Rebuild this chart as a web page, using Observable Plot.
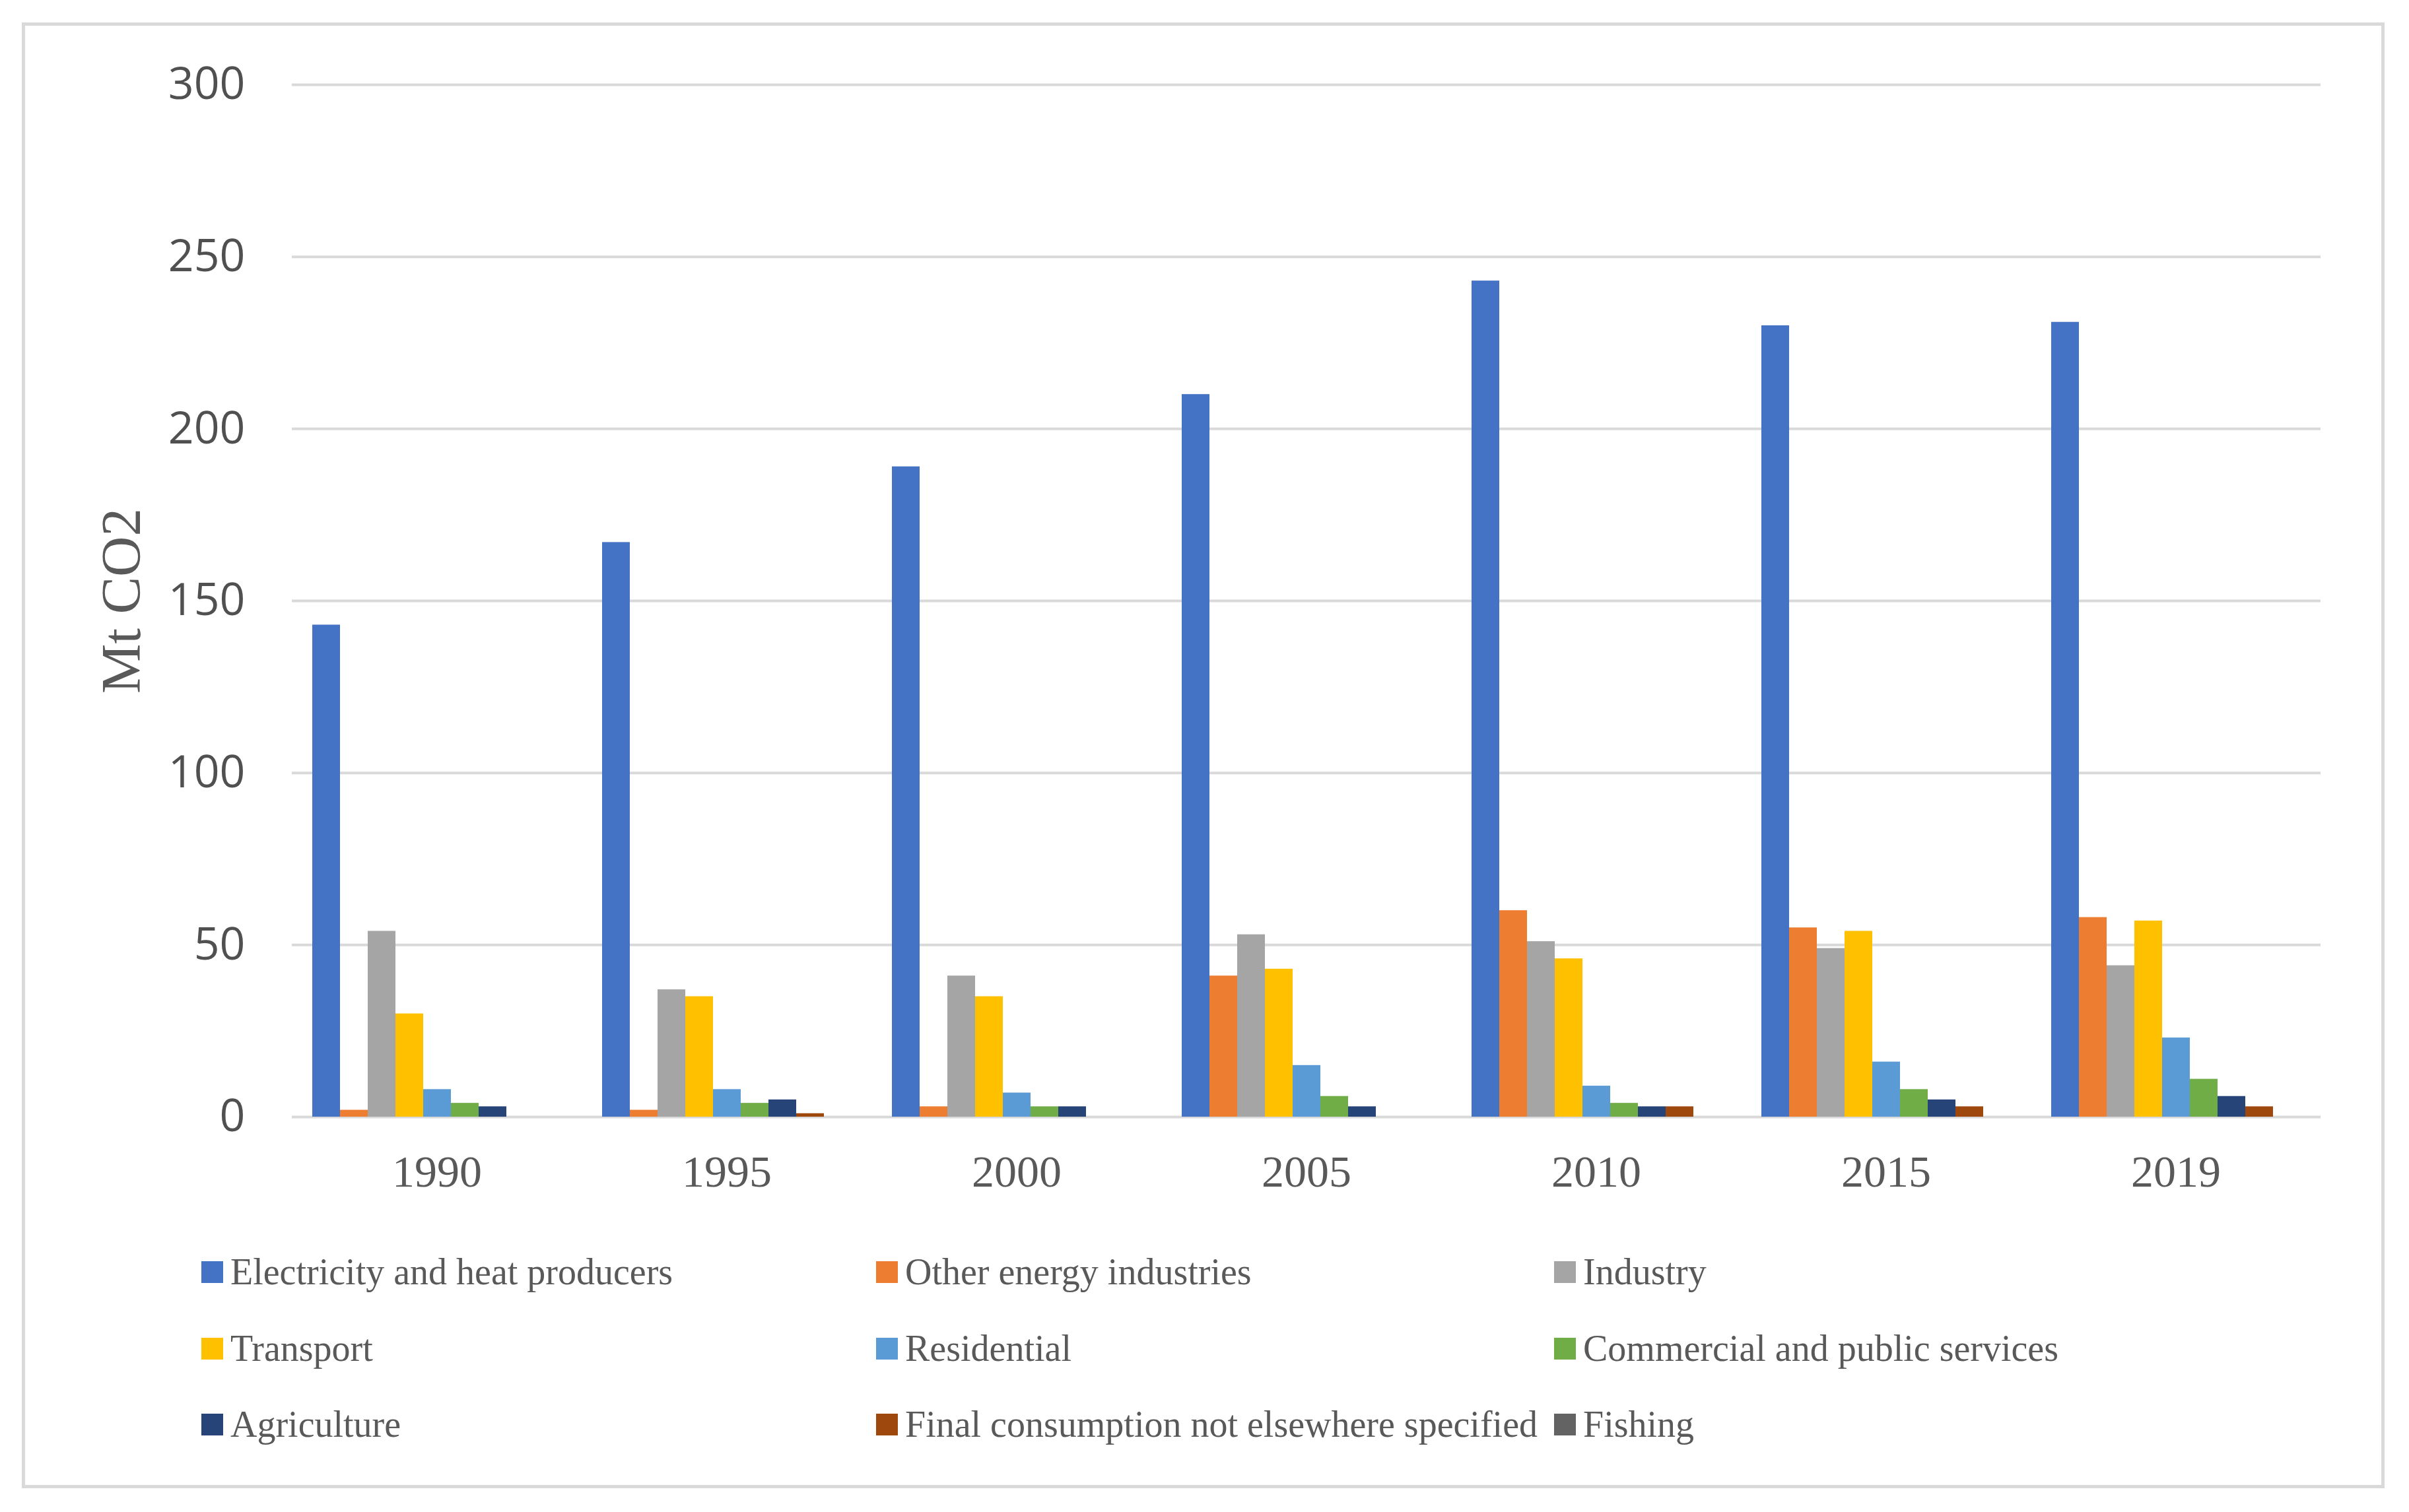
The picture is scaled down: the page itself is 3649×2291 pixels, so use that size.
<!DOCTYPE html>
<html>
<head>
<meta charset="utf-8">
<script src="https://cdn.jsdelivr.net/npm/d3@7"></script>
<script src="https://cdn.jsdelivr.net/npm/@observablehq/plot@0.6"></script>
<style>
  html, body { margin: 0; padding: 0; background: #ffffff; }
  body { width: 3649px; height: 2291px; position: relative; overflow: hidden; }
  #frame { position: absolute; left: 33px; top: 34px; width: 3579px; height: 2221px;
           border: 5px solid #d9d9d9; box-sizing: border-box; pointer-events: none; }
  #chart { position: absolute; left: 0; top: 0; }
  .item { position: absolute; display: flex; align-items: center; height: 60px;
          font-family: "Liberation Serif", serif; font-size: 56px; color: #595959; white-space: nowrap; }
  .sw { width: 33px; height: 33px; margin-right: 11px; flex: none; }
</style>
</head>
<body>
<div id="chart"></div>
<div id="legend"></div>
<div id="frame"></div>
<script>
const years = ["1990", "1995", "2000", "2005", "2010", "2015", "2019"];
const sectors = [
  "Electricity and heat producers",
  "Other energy industries",
  "Industry",
  "Transport",
  "Residential",
  "Commercial and public services",
  "Agriculture",
  "Final consumption not elsewhere specified",
  "Fishing"
];
const colors = ["#4472C4", "#ED7D31", "#A5A5A5", "#FFC000", "#5B9BD5", "#70AD47", "#264478", "#9E480E", "#636363"];

const electricity   = [143, 167, 189, 210, 243, 230, 231];
const otherEnergy   = [2, 2, 3, 41, 60, 55, 58];
const industry      = [54, 37, 41, 53, 51, 49, 44];
const transport     = [30, 35, 35, 43, 46, 54, 57];
const residential   = [8, 8, 7, 15, 9, 16, 23];
const commercial    = [4, 4, 3, 6, 4, 8, 11];
const agriculture   = [3, 5, 3, 3, 3, 5, 6];
const finalConsumption = [0, 1, 0, 0, 3, 3, 3];
const fishing       = [0, 0, 0, 0, 0, 0, 0];

const yTicks = [0, 50, 100, 150, 200, 250, 300];

const series = [electricity, otherEnergy, industry, transport, residential, commercial, agriculture, finalConsumption, fishing];
const data = [];
years.forEach((yr, i) => sectors.forEach((s, j) => data.push({year: yr, sector: s, value: series[j][i]})));

const chart = Plot.plot({
  width: 3649,
  height: 1842,
  marginLeft: 440,
  marginRight: 132,
  marginTop: 128,
  marginBottom: 150,
  style: {background: "transparent", overflow: "visible"},
  fx: {domain: years, padding: 0, label: null},
  x: {domain: sectors, paddingInner: 0, paddingOuter: 0.665, axis: null},
  y: {domain: [0, 300], label: null},
  color: {domain: sectors, range: colors},
  marks: [
    Plot.gridY(yTicks, {stroke: "#d9d9d9", strokeOpacity: 1, strokeWidth: 4}),
    Plot.barY(data, {fx: "year", x: "sector", y: "value", fill: "sector"}),
    Plot.axisY(yTicks, {
      tickSize: 0, tickPadding: 71, fontSize: 68, fontFamily: "Open Sans", fill: "#505050",
      label: null
    }),
    Plot.axisY([], {
      tickSize: 0, fontSize: 85, fontFamily: "Liberation Serif", fill: "#595959",
      label: "Mt CO2", labelAnchor: "center", labelOffset: 291, labelArrow: "none"
    }),
    Plot.axisFx({
      anchor: "bottom", tickSize: 0, tickPadding: 57, fontSize: 68,
      fontFamily: "Liberation Serif", fill: "#595959", label: null
    })
  ]
});
document.getElementById("chart").appendChild(chart);

// legend (3 columns x 3 rows)
const legendCols = [305, 1327, 2354];
const legendRows = [1927, 2043, 2158];
const legend = document.getElementById("legend");
sectors.forEach((s, i) => {
  const item = document.createElement("div");
  item.className = "item";
  item.style.left = legendCols[i % 3] + "px";
  item.style.top = (legendRows[Math.floor(i / 3)] - 30) + "px";
  const sw = document.createElement("span");
  sw.className = "sw";
  sw.style.background = colors[i];
  const tx = document.createElement("span");
  tx.textContent = s;
  item.appendChild(sw);
  item.appendChild(tx);
  legend.appendChild(item);
});
</script>
</body>
</html>
